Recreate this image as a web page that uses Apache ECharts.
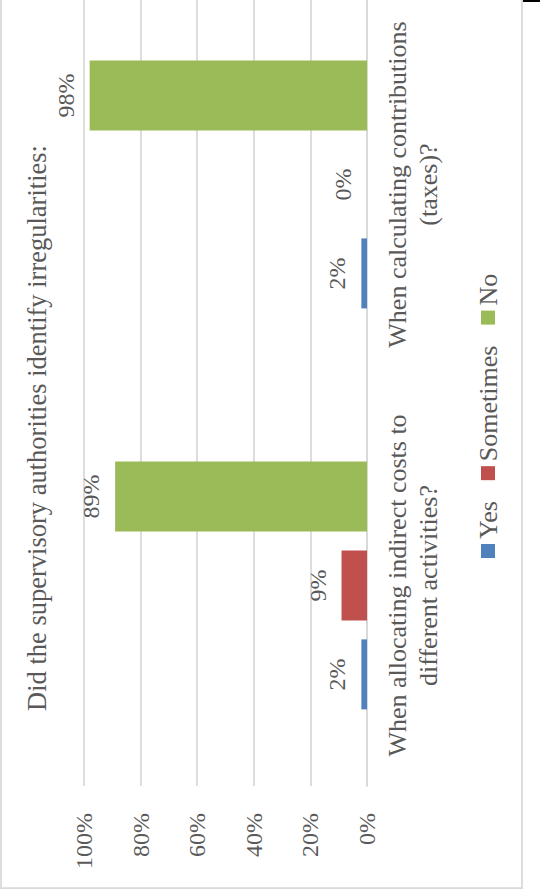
<!DOCTYPE html>
<html>
<head>
<meta charset="utf-8">
<script src="https://cdn.jsdelivr.net/npm/echarts@6/dist/echarts.min.js"></script>
<style>
html, body { margin: 0; padding: 0; width: 540px; height: 892px; overflow: hidden; background: #fff; }
#wrap { position: absolute; left: 0; top: 0; width: 1000px; height: 540px;
  transform-origin: 0 0; transform: translate(0px, 892px) rotate(-90deg); }
#chart { width: 1000px; height: 540px; }
</style>
</head>
<body>
<div id="wrap"><div id="chart"></div></div>
<script>
const titleText = 'Did the supervisory authorities identify irregularities:';
const categories = [
  'When allocating indirect costs to\ndifferent activities?',
  'When calculating contributions\n(taxes)?'
];
const seriesNames = ['Yes', 'Sometimes', 'No'];
const yesValues = [2, 2];
const sometimesValues = [9, 0];
const noValues = [89, 98];
const valueTicks = [0, 20, 40, 60, 80, 100];

const colors = ['#4f81bd', '#c0504d', '#9bbb59'];
const FONT = 'Liberation Serif';
const TXT = '#595959';
const GRID = '#d9d9d9';

const chart = echarts.init(document.getElementById('chart'), null, { renderer: 'svg' });

const labelCfg = {
  show: true, position: 'top', distance: 12,
  formatter: '{c}%', fontFamily: FONT, fontSize: 24, color: TXT
};

const option = {
  animation: false,
  color: colors,
  textStyle: { fontFamily: FONT },
  grid: { left: 106, right: 92, top: 84, bottom: 173, containLabel: false },
  graphic: [
    { type: 'rect', silent: true, z: -1,
      shape: { x: 4, y: 1, width: 1000, height: 521 },
      style: { fill: 'none', stroke: GRID, lineWidth: 1.75 } },
    { type: 'line', silent: true,
      shape: { x1: 891, y1: 523, x2: 891, y2: 540 },
      style: { stroke: '#000', lineWidth: 2 } },
    { type: 'text', silent: true, x: 464, y: 37,
      style: { text: titleText, fontFamily: FONT, fontSize: 26.5, fill: TXT,
        textAlign: 'center', textVerticalAlign: 'middle' } }
  ],
  legend: {
    data: seriesNames, left: 329, top: 470, icon: 'rect',
    itemWidth: 14, itemHeight: 14, itemGap: 21,
    textStyle: { fontFamily: FONT, fontSize: 26, color: TXT }
  },
  xAxis: {
    type: 'category', data: categories,
    axisLine: { show: true, lineStyle: { color: GRID, width: 1.75 } },
    axisTick: { show: false },
    axisLabel: { interval: 0, margin: 15, fontFamily: FONT, fontSize: 26, lineHeight: 31, color: TXT }
  },
  yAxis: {
    type: 'value', min: valueTicks[0], max: valueTicks[valueTicks.length - 1], interval: 20,
    axisLine: { show: false }, axisTick: { show: false },
    axisLabel: { formatter: '{value}%', margin: 27, fontFamily: FONT, fontSize: 24, color: TXT },
    splitLine: { lineStyle: { color: GRID, width: 1.75 } }
  },
  series: [
    { name: seriesNames[0], type: 'bar', data: yesValues, barWidth: 70, barGap: '27%', label: labelCfg },
    { name: seriesNames[1], type: 'bar', data: sometimesValues, barWidth: 70, barGap: '27%', label: labelCfg },
    { name: seriesNames[2], type: 'bar', data: noValues, barWidth: 70, barGap: '27%', label: labelCfg }
  ]
};
chart.setOption(option);
</script>
</body>
</html>
